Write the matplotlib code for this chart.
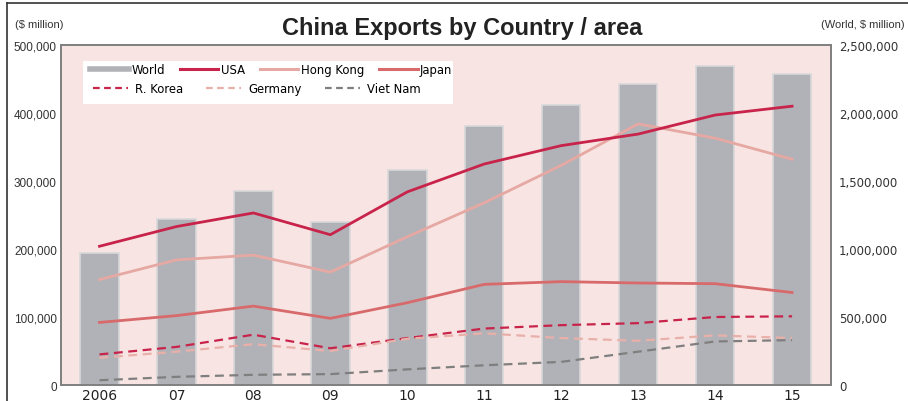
import matplotlib
matplotlib.use("Agg")
import matplotlib.pyplot as plt
from matplotlib.lines import Line2D
from matplotlib.patches import Rectangle

years = ['2006', '07', '08', '09', '10', '11', '12', '13', '14', '15']
world = [971000, 1221000, 1426000, 1199000, 1581000, 1904000, 2059000, 2213000, 2346000, 2287000]
usa = [204000, 233000, 253000, 221000, 284000, 325000, 352000, 369000, 397000, 410000]
hong_kong = [155000, 184000, 191000, 166000, 218000, 268000, 323000, 384000, 363000, 332000]
japan = [92000, 102000, 116000, 98000, 121000, 148000, 152000, 150000, 149000, 136000]
r_korea = [45000, 56000, 74000, 54000, 69000, 83000, 88000, 91000, 100000, 101000]
germany = [40000, 49000, 60000, 50000, 68000, 76000, 69000, 65000, 73000, 69000]
viet_nam = [7000, 12000, 15000, 16000, 23000, 29000, 34000, 49000, 64000, 66000]

font = ['DejaVu Sans']
narrow = ['Liberation Sans Narrow', 'Liberation Sans', 'DejaVu Sans']

fig = plt.figure(figsize=(9.08, 4.02), dpi=100)
ax = fig.add_axes([0.0672, 0.0398, 0.8475, 0.8458])
ax.set_facecolor('#F8E5E3')
ax2 = ax.twinx()

# World bars on right axis
x = range(len(years))
ax.bar(x, world, width=0.5, color='#B1B2B7', edgecolor='#D8D8DA', linewidth=1.2, zorder=2)
ax.set_ylim(0, 2500000)
ax.set_xlim(-0.5, 9.5)
ax.yaxis.tick_right()
ax.set_yticks(range(0, 2500001, 500000))
ax.set_yticklabels([f'{v:,}' for v in range(0, 2500001, 500000)], fontsize=8.5, color='#333333', family=font)
ax.set_xticks(list(x))
ax.set_xticklabels(years, fontsize=10, color='#222222', family=font)
ax.tick_params(axis='x', length=0, pad=2)
ax.tick_params(axis='y', length=0, pad=6)

# country lines on left axis
ax2.yaxis.tick_left()
ax2.plot(x, usa, color='#C8234A', lw=2, zorder=5)
ax2.plot(x, hong_kong, color='#E6A8A3', lw=2, zorder=4)
ax2.plot(x, japan, color='#D86A6C', lw=2, zorder=4)
ax2.plot(x, r_korea, color='#C8234A', lw=1.6, ls=(0, (4, 2.5)), zorder=4)
ax2.plot(x, germany, color='#E9B0A9', lw=1.6, ls=(0, (4, 2.5)), zorder=4)
ax2.plot(x, viet_nam, color='#7F7F7F', lw=1.6, ls=(0, (4, 2.5)), zorder=4)
ax2.set_ylim(0, 500000)
ax2.set_yticks(range(0, 500001, 100000))
ax2.set_yticklabels([f'{v:,}' for v in range(0, 500001, 100000)], fontsize=8.5, color='#333333', family=narrow)
ax2.tick_params(length=0, pad=3)

for a in (ax, ax2):
    for s in a.spines.values():
        s.set_color('#7F7F7F')
        s.set_linewidth(1.2)

# legend box
ax2.add_patch(Rectangle((0.0286, 0.826), 0.481, 0.128, transform=ax2.transAxes,
                        facecolor='white', edgecolor='none', zorder=6))
h1 = [Line2D([], [], color='#B1B2B7', lw=4),
      Line2D([], [], color='#C8234A', lw=2.2),
      Line2D([], [], color='#E6A8A3', lw=2.2),
      Line2D([], [], color='#D86A6C', lw=2.2)]
leg1 = ax2.legend(h1, ['World', 'USA', 'Hong Kong', 'Japan'], ncol=4, frameon=False,
                  loc='upper left', bbox_to_anchor=(0.032, 0.96), prop={'size': 8.4, 'family': font},
                  handlelength=3.3, handletextpad=0.2, columnspacing=1.3, borderaxespad=0)
leg1.set_zorder(7)
ax2.add_artist(leg1)
h2 = [Line2D([], [], color='#C8234A', lw=1.6, ls=(0, (3, 2))),
      Line2D([], [], color='#E9B0A9', lw=1.6, ls=(0, (3, 2))),
      Line2D([], [], color='#7F7F7F', lw=1.6, ls=(0, (3, 2)))]
leg2 = ax2.legend(h2, ['R. Korea', 'Germany', 'Viet Nam'], ncol=3, frameon=False,
                  loc='upper left', bbox_to_anchor=(0.035, 0.905), prop={'size': 8.4, 'family': font},
                  handlelength=3.0, handletextpad=0.6, columnspacing=2.0, borderaxespad=0)
leg2.set_zorder(7)

fig.text(0.509, 0.93, 'China Exports by Country / area', ha='center', va='center',
         fontsize=17, fontweight='bold', color='#222222', family=narrow)
fig.text(0.017, 0.937, '($ million)', ha='left', va='center', fontsize=8, color='#333333', family=narrow)
fig.text(0.996, 0.937, '(World, $ million)', ha='right', va='center', fontsize=8, color='#333333', family=narrow)

# outer frame (top and left edges)
fig.add_artist(Line2D([0.008, 0.008], [0, 0.99], color='#333333', lw=1.2, transform=fig.transFigure))
fig.add_artist(Line2D([0.008, 1.0], [0.99, 0.99], color='#333333', lw=1.2, transform=fig.transFigure))

fig.savefig('out.png', dpi=100)
